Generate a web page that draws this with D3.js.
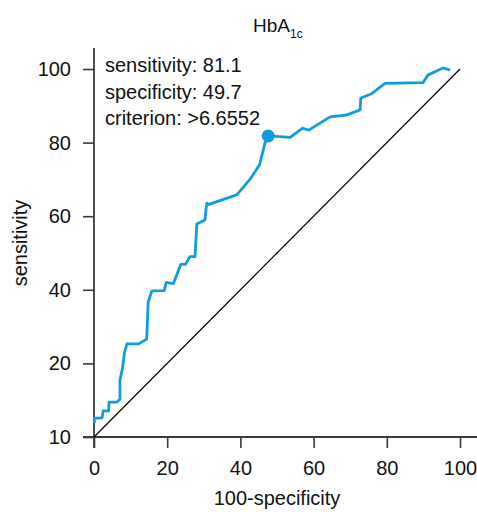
<!DOCTYPE html>
<html>
<head>
<meta charset="utf-8">
<script src="https://cdn.jsdelivr.net/npm/d3@7.9.0/dist/d3.min.js"></script>
<style>
  body { margin: 0; background: #fff; }
  svg text { font-family: "Liberation Sans", Arial, sans-serif; fill: #111; }
</style>
</head>
<body>
<svg id="chart" width="477" height="512"></svg>
<script>
// ROC curve: 100-specificity vs sensitivity
const fpr = [0.1, 0.1, 2.2, 2.5, 4.0, 4.1, 6.2, 7.1, 7.1, 7.8, 8.3, 9.0, 12.2, 14.4, 14.8, 15.8,
  19.2, 19.7, 21.7, 23.7, 25.0, 26.2, 27.6, 28.1, 30.3, 30.8, 31.4, 39.0, 42.6, 44.6, 45.2, 46.7,
  47.6, 53.6, 57.0, 58.7, 64.5, 69.0, 72.7, 72.9, 75.7, 79.5, 89.9, 91.3, 95.4, 97.3];
const tpr = [3.8, 5.1, 5.2, 7.1, 7.1, 9.5, 9.5, 10.2, 15.5, 18.8, 22.8, 25.3, 25.3, 26.6, 36.7, 39.7,
  39.8, 42.0, 41.7, 46.9, 46.9, 49.0, 49.0, 57.9, 59.0, 63.5, 63.2, 65.8, 70.0, 73.0, 73.9, 79.8,
  81.8, 81.4, 83.9, 83.4, 87.0, 87.5, 88.9, 92.1, 93.2, 96.1, 96.3, 98.4, 100.3, 99.7];
const cutoff = [47.6, 81.8];
const xTicks = [0, 20, 40, 60, 80, 100];
const yTicks = [0, 20, 40, 60, 80, 100];
const yTickLabels = ["10", "20", "40", "60", "80", "100"];
const notes = ["sensitivity: 81.1", "specificity: 49.7", "criterion: >6.6552"];

const svg = d3.select('#chart');
const x = d3.scaleLinear().domain([0, 100]).range([94, 460]);
const y = d3.scaleLinear().domain([0, 100]).range([437, 69]);
const blue = '#0f9ddf';
const axisColor = '#3a3a3a';

// axes
const gx = svg.append('g').attr('transform', `translate(0,${y(0)})`)
  .call(d3.axisBottom(x).tickValues(xTicks).tickSize(11).tickPadding(13).tickFormat(d3.format('d')));
const gy = svg.append('g').attr('transform', `translate(${x(0)},0)`)
  .call(d3.axisLeft(y).tickValues(yTicks).tickSize(11).tickPadding(12).tickFormat((d, i) => yTickLabels[i]));
[gx, gy].forEach(g => {
  g.select('.domain').remove();
  g.selectAll('line').attr('stroke', axisColor).attr('stroke-width', 1.6);
  g.selectAll('text').attr('font-size', 20).attr('fill', '#111');
});
svg.append('line').attr('x1', 83).attr('x2', 477).attr('y1', y(0)).attr('y2', y(0))
  .attr('stroke', axisColor).attr('stroke-width', 1.8);
svg.append('line').attr('x1', x(0)).attr('x2', x(0)).attr('y1', 48).attr('y2', y(0) + 11)
  .attr('stroke', axisColor).attr('stroke-width', 1.8);

// reference diagonal
svg.append('line')
  .attr('x1', x(0)).attr('y1', y(0)).attr('x2', x(100)).attr('y2', y(100))
  .attr('stroke', '#000').attr('stroke-width', 1.2);

// ROC curve
const pts = fpr.map((d, i) => [d, tpr[i]]);
svg.append('path')
  .attr('d', d3.line().x(d => x(d[0])).y(d => y(d[1]))(pts))
  .attr('fill', 'none').attr('stroke', blue).attr('stroke-width', 2.8)
  .attr('stroke-linejoin', 'round');

svg.append('circle').attr('cx', x(cutoff[0])).attr('cy', y(cutoff[1])).attr('r', 6.5).attr('fill', blue);

// annotation
notes.forEach((t, i) => {
  svg.append('text').attr('x', 105).attr('y', 72 + i * 26.5).attr('font-size', 20).text(t);
});

// title
const title = svg.append('text').attr('x', 253).attr('y', 32).attr('font-size', 19);
title.append('tspan').text('HbA');
title.append('tspan').attr('font-size', 12).attr('dy', 6).text('1c');

// axis labels
svg.append('text').attr('x', 277).attr('y', 505).attr('text-anchor', 'middle').attr('font-size', 20)
  .text('100-specificity');
svg.append('text').attr('transform', 'translate(27,243) rotate(-90)').attr('text-anchor', 'middle')
  .attr('font-size', 20).text('sensitivity');
</script>
</body>
</html>
